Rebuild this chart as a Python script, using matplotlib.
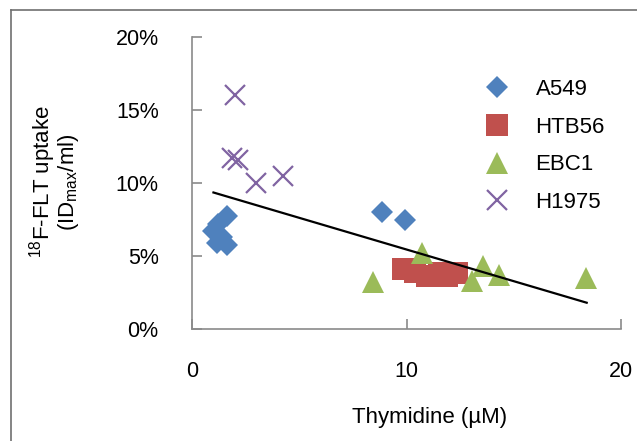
import matplotlib
matplotlib.use("Agg")
import matplotlib.pyplot as plt
from matplotlib.ticker import FuncFormatter
from matplotlib.lines import Line2D

plt.rcParams['font.family'] = ['Liberation Sans', 'DejaVu Sans']
plt.rcParams['mathtext.fontset'] = 'custom'
plt.rcParams['mathtext.rm'] = 'Liberation Sans'
plt.rcParams['mathtext.it'] = 'Liberation Sans'

# data (thymidine in uM, uptake in %)
a549_x = [1.0, 1.23, 1.62, 1.38, 1.15, 1.62, 8.84, 9.93]
a549_y = [6.7, 7.2, 7.75, 6.3, 5.9, 5.75, 8.0, 7.5]
htb56_x = [9.82, 10.4, 10.94, 11.5, 11.87, 12.35]
htb56_y = [4.1, 3.9, 3.6, 3.85, 3.6, 3.85]
ebc1_x = [8.42, 10.74, 13.55, 13.04, 14.33, 18.37]
ebc1_y = [3.25, 5.2, 4.3, 3.3, 3.7, 3.5]
h1975_x = [2.0, 1.85, 2.16, 3.0, 4.26]
h1975_y = [16.0, 11.7, 11.6, 10.0, 10.45]
# trend line
trend_x = [1.0, 18.4]
trend_y = [9.35, 1.8]

fig = plt.figure(figsize=(6.37, 4.41), dpi=100)
ax = fig.add_axes([192/637, 1-329/441, (621-192)/637, (329-37)/441])

ax.plot(a549_x, a549_y, 'D', color='#4F81BD', ms=11.6, mew=0, label='A549')
ax.plot(htb56_x, htb56_y, 's', color='#C0504D', ms=15.8, mew=0, label='HTB56')
ax.plot(ebc1_x, ebc1_y, '^', color='#9BBB59', ms=15.5, mew=0, label='EBC1')
ax.plot(h1975_x, h1975_y, 'x', color='#8064A2', ms=15, mew=1.6, label='H1975')
ax.plot(trend_x, trend_y, color='black', lw=1.6)

ax.set_xlim(0, 20)
ax.set_ylim(0, 20)
ax.set_xticks([0, 10, 20])
ax.set_yticks([0, 5, 10, 15, 20])
ax.yaxis.set_major_formatter(FuncFormatter(lambda v, p: '%d%%' % v))
for s in ['top', 'right']:
    ax.spines[s].set_visible(False)
for s in ['left', 'bottom']:
    ax.spines[s].set_color('#8a8a8a')
    ax.spines[s].set_linewidth(1.2)
ax.tick_params(axis='both', direction='in', length=7, width=1.2, color='#8a8a8a',
               labelsize=15.5)
ax.tick_params(axis='x', pad=23)
ax.tick_params(axis='y', pad=24)

fig.text(430/637, 1-417/441, 'Thymidine (\u00b5M)', ha='center', va='center', fontsize=16)
fig.text(54/637, 1-182/441, '$\\mathregular{^{18}}$F-FLT uptake\n(ID$\\mathregular{_{max}}$/ml)',
         ha='center', va='center', rotation=90, fontsize=16, linespacing=0.92)

ax.legend(loc='upper left', bbox_to_anchor=(487/637, 1-79/441),
          bbox_transform=fig.transFigure, frameon=False, fontsize=16,
          numpoints=1, handlelength=0.875, handletextpad=1.31, labelspacing=0.75,
          borderpad=0, borderaxespad=0)

# frame lines of the original figure (top and left only)
fig.add_artist(Line2D([11/637, 1], [1-10/441, 1-10/441], transform=fig.transFigure,
                      color='#707070', lw=1.2))
fig.add_artist(Line2D([11/637, 11/637], [0, 1-10/441], transform=fig.transFigure,
                      color='#707070', lw=1.2))

fig.savefig('out.png', dpi=100)
